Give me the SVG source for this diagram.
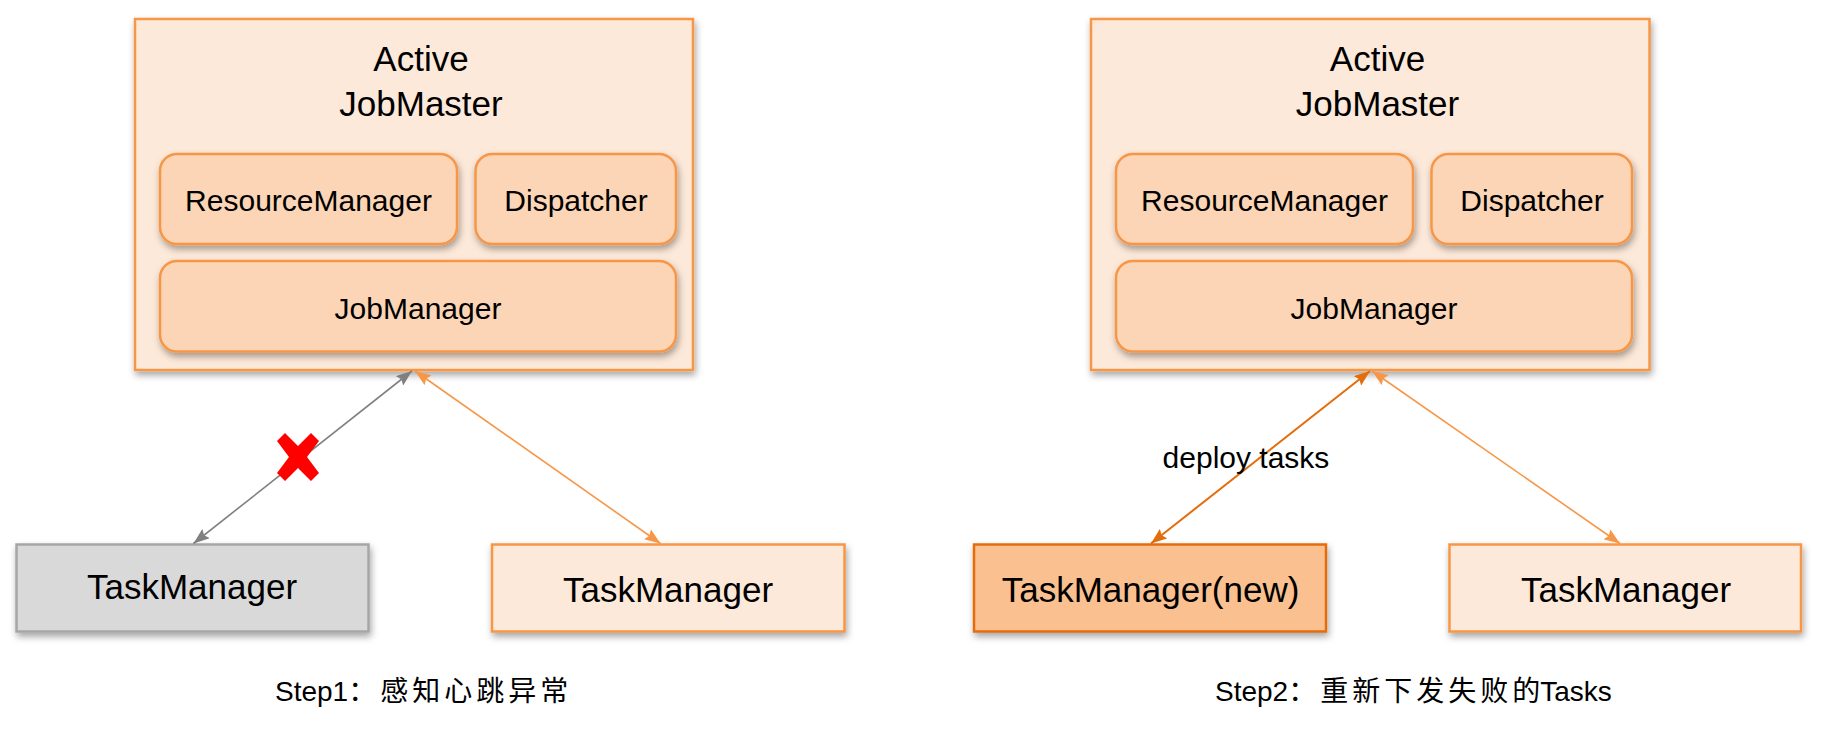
<svg xmlns="http://www.w3.org/2000/svg" width="1824" height="729" viewBox="0 0 1824 729">
<defs>
<filter id="sh" x="-10%" y="-10%" width="130%" height="150%">
<feDropShadow dx="1.5" dy="4" stdDeviation="3.5" flood-color="#000" flood-opacity="0.35"/>
</filter>
<marker id="ao" viewBox="0 0 16 12" refX="16" refY="6" markerWidth="16" markerHeight="12" markerUnits="userSpaceOnUse" orient="auto-start-reverse">
<path d="M0,0 L16,6 L0,12 L2.5,6 Z" fill="#F79646"/>
</marker>
<marker id="ad" viewBox="0 0 16 12" refX="16" refY="6" markerWidth="16" markerHeight="12" markerUnits="userSpaceOnUse" orient="auto-start-reverse">
<path d="M0,0 L16,6 L0,12 L2.5,6 Z" fill="#E46C0A"/>
</marker>
<marker id="ag" viewBox="0 0 16 12" refX="16" refY="6" markerWidth="16" markerHeight="12" markerUnits="userSpaceOnUse" orient="auto-start-reverse">
<path d="M0,0 L16,6 L0,12 L2.5,6 Z" fill="#808080"/>
</marker>
</defs>
<style>
text { font-family: "Liberation Sans", "Noto Sans CJK SC", sans-serif; fill: #000; }
.outer { fill: #FDE9D9; stroke: #F79646; stroke-width: 2.5; }
.sub { fill: #FBD5B5; stroke: #F79646; stroke-width: 2.5; }
.tm { fill: #FDE9D9; stroke: #F79646; stroke-width: 2.5; }
.tmnew { fill: #FAC090; stroke: #E46C0A; stroke-width: 2.5; }
.tmdead { fill: #D9D9D9; stroke: #A6A6A6; stroke-width: 2.5; }
.title { font-size: 35px; text-anchor: middle; }
.lbl { font-size: 30px; text-anchor: middle; }
.tmt { font-size: 35px; text-anchor: middle; }
.cap { font-size: 28px; }
.cjk { font-size: 28px; letter-spacing: 4px; font-family: "Noto Sans CJK SC", sans-serif; }
.cjk0 { font-size: 28px; font-family: "Noto Sans CJK SC", sans-serif; }
</style>

<!-- Left panel: Step 1 -->
<g id="jobmaster1">
<rect class="outer" x="135" y="19" width="558" height="351" filter="url(#sh)"/>
<text class="title" x="421" y="71">Active</text>
<text class="title" x="421" y="116">JobMaster</text>
</g>
<g id="resourcemanager1">
<rect class="sub" x="160" y="154" width="297" height="90" rx="17" filter="url(#sh)"/>
<text class="lbl" x="308.5" y="211">ResourceManager</text>
</g>
<g id="dispatcher1">
<rect class="sub" x="475.5" y="154" width="200.5" height="90" rx="17" filter="url(#sh)"/>
<text class="lbl" x="576" y="211">Dispatcher</text>
</g>
<g id="jobmanager1">
<rect class="sub" x="160" y="261" width="516" height="90.5" rx="17" filter="url(#sh)"/>
<text class="lbl" x="418" y="319">JobManager</text>
</g>
<g id="taskmanager1a">
<rect class="tmdead" x="16.5" y="544.5" width="352" height="87" filter="url(#sh)"/>
<text class="tmt" x="192" y="599">TaskManager</text>
</g>
<g id="taskmanager1b">
<rect class="tm" x="492" y="544.5" width="352.5" height="87" filter="url(#sh)"/>
<text class="tmt" x="668" y="602">TaskManager</text>
</g>

<!-- Right panel: Step 2 -->
<g id="jobmaster2">
<rect class="outer" x="1091" y="19" width="558.5" height="351" filter="url(#sh)"/>
<text class="title" x="1377.5" y="71">Active</text>
<text class="title" x="1377.5" y="116">JobMaster</text>
</g>
<g id="resourcemanager2">
<rect class="sub" x="1116" y="154" width="297" height="90" rx="17" filter="url(#sh)"/>
<text class="lbl" x="1264.5" y="211">ResourceManager</text>
</g>
<g id="dispatcher2">
<rect class="sub" x="1431.5" y="154" width="200.5" height="90" rx="17" filter="url(#sh)"/>
<text class="lbl" x="1532" y="211">Dispatcher</text>
</g>
<g id="jobmanager2">
<rect class="sub" x="1116" y="261" width="516" height="90.5" rx="17" filter="url(#sh)"/>
<text class="lbl" x="1374" y="319">JobManager</text>
</g>
<g id="taskmanager2new">
<rect class="tmnew" x="974" y="544.5" width="352" height="87" filter="url(#sh)"/>
<text class="tmt" x="1150.5" y="602">TaskManager(new)</text>
</g>
<g id="taskmanager2b">
<rect class="tm" x="1449.5" y="544.5" width="351.5" height="87" filter="url(#sh)"/>
<text class="tmt" x="1626" y="602">TaskManager</text>
</g>

<!-- Connectors -->
<g id="connectors">
<line x1="193.5" y1="543.5" x2="412" y2="371" stroke="#808080" stroke-width="1.6" marker-start="url(#ag)" marker-end="url(#ag)"/>
<line x1="660.5" y1="543.5" x2="415" y2="371" stroke="#F79646" stroke-width="1.6" marker-start="url(#ao)" marker-end="url(#ao)"/>
<line x1="1151" y1="543.5" x2="1370" y2="371" stroke="#E46C0A" stroke-width="2" marker-start="url(#ad)" marker-end="url(#ad)"/>
<line x1="1620" y1="543.5" x2="1372" y2="371" stroke="#F79646" stroke-width="1.6" marker-start="url(#ao)" marker-end="url(#ao)"/>
<text x="1246" y="468" font-size="30" text-anchor="middle">deploy tasks</text>
</g>

<!-- Failure mark -->
<g id="failure-mark">
<polygon fill="#FF0000" points="277,441 285,433 298,446 311,433 319,441 307,457 319,473 311,481 298,468 285,481 277,473 289,457"/>
</g>

<!-- Captions -->
<g id="captions">
<text x="275" y="701"><tspan class="cap">Step1</tspan><tspan class="cjk">：感知心跳异常</tspan></text>
<text x="1215" y="701"><tspan class="cap">Step2</tspan><tspan class="cjk">：重新下发失败</tspan><tspan class="cjk0">的</tspan><tspan class="cap">Tasks</tspan></text>
</g>
</svg>
